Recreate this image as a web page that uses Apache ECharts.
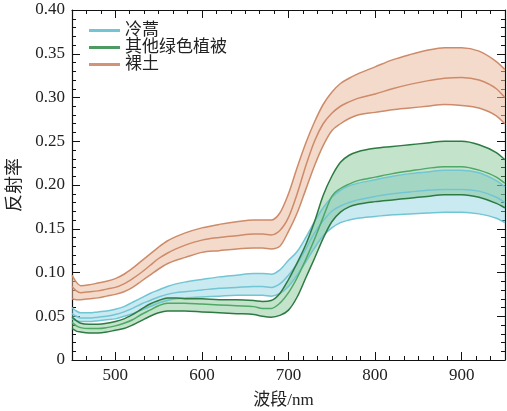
<!DOCTYPE html>
<html>
<head>
<meta charset="utf-8">
<script src="https://cdn.jsdelivr.net/npm/echarts@6/dist/echarts.min.js"></script>
<style>
html,body{margin:0;padding:0;background:#fff;}
#chart{width:507px;height:411px;}
</style>
</head>
<body>
<div id="chart"></div>
<script>
const wavelength = [450,455,460,470,480,490,500,510,520,530,540,550,560,570,580,600,620,640,660,670,680,690,700,710,720,730,740,750,760,770,780,800,820,840,860,880,900,920,940,950];

const seriesNames = ['冷蒿','其他绿色植被','裸土'];

// 冷蒿 (light blue)
const wormwoodUpper = [0.060,0.056,0.054,0.054,0.055,0.056,0.058,0.061,0.066,0.071,0.076,0.080,0.084,0.087,0.089,0.092,0.095,0.097,0.099,0.099,0.098,0.103,0.114,0.124,0.140,0.158,0.174,0.186,0.194,0.199,0.202,0.206,0.210,0.213,0.215,0.217,0.217,0.214,0.205,0.198];
const wormwoodMean  = [0.053,0.050,0.048,0.048,0.049,0.050,0.052,0.055,0.059,0.064,0.068,0.072,0.075,0.077,0.078,0.080,0.082,0.083,0.084,0.084,0.083,0.087,0.097,0.110,0.127,0.145,0.159,0.170,0.176,0.180,0.183,0.187,0.190,0.192,0.194,0.195,0.195,0.193,0.186,0.180];
const wormwoodLower = [0.047,0.045,0.044,0.044,0.045,0.046,0.047,0.050,0.053,0.057,0.061,0.065,0.068,0.070,0.071,0.072,0.073,0.074,0.074,0.074,0.073,0.076,0.084,0.097,0.112,0.128,0.142,0.151,0.157,0.160,0.162,0.164,0.166,0.167,0.168,0.169,0.169,0.167,0.162,0.157];

// 其他绿色植被 (green)
const vegUpper = [0.049,0.045,0.042,0.041,0.041,0.042,0.044,0.047,0.052,0.058,0.064,0.068,0.071,0.071,0.070,0.070,0.069,0.069,0.068,0.067,0.068,0.076,0.092,0.111,0.132,0.158,0.188,0.210,0.226,0.234,0.238,0.242,0.244,0.246,0.248,0.250,0.250,0.246,0.237,0.229];
const vegMean  = [0.043,0.039,0.037,0.036,0.036,0.037,0.039,0.042,0.046,0.052,0.057,0.062,0.065,0.065,0.065,0.064,0.063,0.062,0.061,0.059,0.059,0.065,0.077,0.094,0.115,0.138,0.163,0.187,0.196,0.201,0.205,0.209,0.213,0.216,0.219,0.221,0.221,0.217,0.209,0.202];
const vegLower = [0.036,0.033,0.032,0.031,0.031,0.032,0.034,0.036,0.040,0.045,0.050,0.054,0.056,0.056,0.056,0.055,0.054,0.053,0.052,0.050,0.049,0.051,0.057,0.072,0.094,0.116,0.139,0.158,0.169,0.175,0.178,0.181,0.183,0.185,0.187,0.189,0.189,0.186,0.179,0.174];

// 裸土 (brown)
const soilUpper = [0.097,0.089,0.085,0.086,0.088,0.090,0.093,0.098,0.105,0.113,0.121,0.129,0.136,0.141,0.145,0.151,0.155,0.158,0.160,0.160,0.160,0.168,0.190,0.220,0.248,0.272,0.292,0.306,0.316,0.322,0.327,0.335,0.343,0.349,0.354,0.357,0.357,0.353,0.341,0.332];
const soilMean  = [0.084,0.079,0.077,0.078,0.079,0.081,0.083,0.087,0.093,0.100,0.108,0.116,0.122,0.127,0.131,0.137,0.140,0.142,0.144,0.144,0.143,0.148,0.163,0.190,0.222,0.250,0.270,0.282,0.290,0.295,0.299,0.304,0.310,0.315,0.319,0.322,0.323,0.320,0.310,0.300];
const soilLower = [0.070,0.069,0.069,0.070,0.071,0.073,0.075,0.078,0.083,0.090,0.097,0.104,0.110,0.114,0.117,0.123,0.125,0.127,0.128,0.128,0.127,0.130,0.147,0.168,0.195,0.222,0.245,0.262,0.270,0.276,0.280,0.283,0.286,0.288,0.290,0.292,0.291,0.288,0.279,0.270];

const xTickValues = [500,600,700,800,900];
const yTickLabels = ['0','0.05','0.10','0.15','0.20','0.25','0.30','0.35','0.40'];

const FONT = '"Liberation Serif", "Noto Sans CJK SC", serif';

const groups = [
  {name: seriesNames[2], up: soilUpper, mid: soilMean, low: soilLower,
   edge:'#cd8b6a', mean:'#cd8b6a', fill:'rgba(235,188,160,0.55)', legend:'#d19478'},
  {name: seriesNames[0], up: wormwoodUpper, mid: wormwoodMean, low: wormwoodLower,
   edge:'#72c5d4', mean:'#72c5d4', fill:'rgba(135,208,224,0.45)', legend:'#72c5d4'},
  {name: seriesNames[1], up: vegUpper, mid: vegMean, low: vegLower,
   edge:'#2e7a43', mean:'#4ea866', fill:'rgba(115,188,130,0.42)', legend:'#4e9a62'}
];

// monotone cubic (Fritsch-Carlson) bezier segments through pixel points
function segments(pts){
  const n = pts.length, m = [], t = [];
  for (let i=0;i<n-1;i++) m.push((pts[i+1][1]-pts[i][1])/(pts[i+1][0]-pts[i][0]));
  t[0] = m[0]; t[n-1] = m[n-2];
  for (let i=1;i<n-1;i++) t[i] = (m[i-1]*m[i] <= 0) ? 0 : (m[i-1]+m[i])/2;
  for (let i=0;i<n-1;i++){
    if (m[i] === 0){ t[i]=0; t[i+1]=0; continue; }
    const a = t[i]/m[i], b = t[i+1]/m[i], s = a*a+b*b;
    if (s > 9){ const k = 3/Math.sqrt(s); t[i]=k*a*m[i]; t[i+1]=k*b*m[i]; }
  }
  const segs = [];
  for (let i=0;i<n-1;i++){
    const h = (pts[i+1][0]-pts[i][0])/3;
    segs.push([pts[i], [pts[i][0]+h, pts[i][1]+t[i]*h], [pts[i+1][0]-h, pts[i+1][1]-t[i+1]*h], pts[i+1]]);
  }
  return segs;
}
function f(v){ return v.toFixed(2); }
function curvePath(pts){
  const segs = segments(pts);
  let d = 'M' + f(pts[0][0]) + ' ' + f(pts[0][1]);
  segs.forEach(s=>{ d += ' C' + f(s[1][0])+' '+f(s[1][1])+' '+f(s[2][0])+' '+f(s[2][1])+' '+f(s[3][0])+' '+f(s[3][1]); });
  return d;
}
function bandPath(upPts, lowPts){
  let d = curvePath(upPts);
  const segs = segments(lowPts).reverse();
  const last = lowPts[lowPts.length-1];
  d += ' L' + f(last[0]) + ' ' + f(last[1]);
  segs.forEach(s=>{ d += ' C' + f(s[2][0])+' '+f(s[2][1])+' '+f(s[1][0])+' '+f(s[1][1])+' '+f(s[0][0])+' '+f(s[0][1]); });
  return d + ' Z';
}
function toPts(api, arr){ return wavelength.map((w,i)=>api.coord([w, arr[i]])); }

const rows = wavelength.map((w,i)=>[w, vegLower[i], soilUpper[i]]);

const series = [];
series.push({
  type:'custom', name:'bands', silent:true, z:1, data:rows, encode:{x:0, y:[1,2]},
  renderItem:function(params, api){
    if (params.dataIndex !== 0) return null;
    return {type:'group', children: groups.map(g=>({
      type:'path', shape:{pathData: bandPath(toPts(api,g.up), toPts(api,g.low))},
      style:{fill:g.fill, stroke:null}
    }))};
  }
});
groups.forEach(g=>{
  series.push({
    type:'custom', name:g.name, silent:true, z:3, data:rows, encode:{x:0, y:[1,2]},
    itemStyle:{color:g.legend},
    renderItem:function(params, api){
      if (params.dataIndex !== 0) return null;
      const lines = [[g.up,g.edge],[g.low,g.edge],[g.mid,g.mean]];
      return {type:'group', children: lines.map(l=>({
        type:'path', shape:{pathData: curvePath(toPts(api,l[0]))},
        style:{fill:null, stroke:l[1], lineWidth:1.5}
      }))};
    }
  });
});

const axisLineStyle = {lineStyle:{color:'#111', width:1.2}};

function xLabel(v){
  for (const t of xTickValues){ if (Math.abs(v - t) < 0.01) return String(t); }
  return '';
}

const option = {
  backgroundColor:'#fff',
  animation:false,
  grid:{left:72, right:2, top:10, bottom:51, containLabel:false, outerBoundsMode:'none'},
  legend:{
    orient:'vertical', left:84, top:17, itemWidth:31, itemHeight:3, itemGap:0,
    textStyle:{fontFamily:FONT, fontSize:17, color:'#222', lineHeight:15},
    data:[
      {name:seriesNames[0], icon:'rect', itemStyle:{color:'#72c5d4'}},
      {name:seriesNames[1], icon:'rect', itemStyle:{color:'#4e9a62'}},
      {name:seriesNames[2], icon:'rect', itemStyle:{color:'#d19478'}}
    ],
    selectedMode:false
  },
  xAxis:[
    {type:'value', position:'bottom', min:450, max:950, interval:100/6,
     axisLine:Object.assign({show:true}, axisLineStyle),
     axisTick:{show:true, inside:true, length:4, lineStyle:{color:'#111'}},
     axisLabel:{show:true, formatter:xLabel, fontFamily:FONT, fontSize:17, color:'#222', margin:7},
     splitLine:{show:false},
     name:'波段/nm', nameLocation:'middle', nameGap:32,
     nameTextStyle:{fontFamily:FONT, fontSize:17, color:'#222', padding:[0,10,0,0]}},
    {type:'value', position:'bottom', min:450, max:950, splitNumber:5,
     axisLine:{show:false}, axisTick:{show:true, inside:true, length:8, lineStyle:{color:'#111'}},
     axisLabel:{show:false}, splitLine:{show:false}},
    {type:'value', position:'top', min:450, max:950, interval:100/6,
     axisLine:Object.assign({show:true}, axisLineStyle),
     axisTick:{show:true, inside:true, length:4, lineStyle:{color:'#111'}},
     axisLabel:{show:false}, splitLine:{show:false}},
    {type:'value', position:'top', min:450, max:950, splitNumber:5,
     axisLine:{show:false}, axisTick:{show:true, inside:true, length:8, lineStyle:{color:'#111'}},
     axisLabel:{show:false}, splitLine:{show:false}}
  ],
  yAxis:[
    {type:'value', position:'left', min:0, max:0.4, interval:0.05,
     axisLine:Object.assign({show:true}, axisLineStyle),
     axisTick:{show:true, inside:true, length:8, lineStyle:{color:'#111'}},
     minorTick:{show:true, splitNumber:5, length:4, lineStyle:{color:'#111'}},
     axisLabel:{show:true, fontFamily:FONT, fontSize:17, color:'#222', margin:7,
       formatter:function(v){ const i = Math.round(v/0.05); return yTickLabels[i] !== undefined ? yTickLabels[i] : ''; }},
     splitLine:{show:false},
     name:'反射率', nameLocation:'middle', nameGap:48, nameRotate:90,
     nameTextStyle:{fontFamily:FONT, fontSize:18, color:'#222'}},
    {type:'value', position:'right', min:0, max:0.4, interval:0.05,
     axisLine:Object.assign({show:true}, axisLineStyle),
     axisTick:{show:true, inside:true, length:8, lineStyle:{color:'#111'}},
     minorTick:{show:true, splitNumber:5, length:4, lineStyle:{color:'#111'}},
     axisLabel:{show:false}, splitLine:{show:false}}
  ],
  series: series
};

const chart = echarts.init(document.getElementById('chart'), null, {renderer:'canvas'});
chart.setOption(option);
</script>
</body>
</html>
